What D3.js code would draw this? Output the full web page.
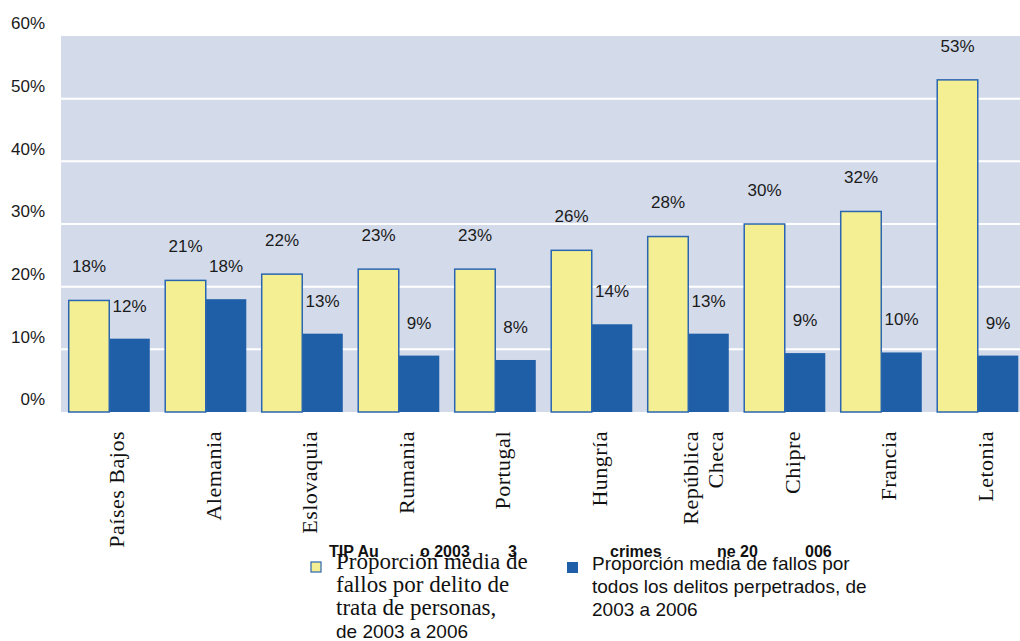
<!DOCTYPE html>
<html><head><meta charset="utf-8">
<script src="https://cdn.jsdelivr.net/npm/d3@7"></script>
<style>
html,body{margin:0;padding:0;background:#fff;overflow:hidden;}
svg{display:block;}
</style></head>
<body>
<svg id="chart" width="1020" height="641"></svg>
<script>
const categories = ["Países Bajos","Alemania","Eslovaquia","Rumania","Portugal","Hungría","República Checa","Chipre","Francia","Letonia"];
const categoryLines = [["Países Bajos"],["Alemania"],["Eslovaquia"],["Rumania"],["Portugal"],["Hungría"],["República","Checa"],["Chipre"],["Francia"],["Letonia"]];
const traficoValues = [17.8, 21.0, 22.0, 22.8, 22.8, 25.8, 28.0, 30.0, 32.0, 53.0];
const todosValues = [11.7, 18.0, 12.5, 9.0, 8.3, 14.0, 12.5, 9.4, 9.5, 9.0];
const yTicks = [0, 10, 20, 30, 40, 50, 60];
const legend1Lines = ["Proporción media de","fallos por delito de","trata de personas,","de 2003 a 2006"];
const legend2Lines = ["Proporción media de fallos por","todos los delitos perpetrados, de","2003 a 2006"];
const underlayFragments = [["TIP Au",329],["o 2003",420],["3",508],["crimes",610],["ne 20",717],["006",805]];

const svg = d3.select("#chart");
const pLeft = 61, pTop = 36, pBottom = 412, pRight = 1020;

const x = d3.scaleBand().domain(categories).range([61, 1026]).paddingInner(0.16).paddingOuter(0.08);
const xs = d3.scaleBand().domain(["a","b"]).range([0, x.bandwidth()]);
const y = d3.scaleLinear().domain([0, 60]).range([pBottom, pTop]);

svg.append("rect").attr("x", pLeft).attr("y", pTop).attr("width", pRight - pLeft).attr("height", pBottom - pTop).attr("fill", "#d3dbeb");

svg.append("g").selectAll("line").data(yTicks.filter(d => d > 0 && d < 60)).join("line")
  .attr("x1", pLeft).attr("x2", pRight).attr("y1", d => y(d)).attr("y2", d => y(d))
  .attr("stroke", "#ffffff").attr("stroke-width", 2);

const yAxis = d3.axisLeft(y).tickValues(yTicks).tickFormat(d => d + "%").tickSize(0).tickPadding(0);
const yg = svg.append("g").attr("transform", "translate(45,0)").call(yAxis);
yg.select(".domain").remove();
yg.selectAll("text").attr("font-family", "Liberation Sans, Arial, sans-serif").attr("font-size", 17).attr("fill", "#1a1a1a").attr("dy", "-0.42em");

const g = svg.append("g");
categories.forEach((c, i) => {
  const x0 = x(c);
  g.append("rect").attr("x", x0 + xs("b")).attr("y", y(todosValues[i])).attr("width", xs.bandwidth()).attr("height", pBottom - y(todosValues[i]))
    .attr("fill", "#1f5fa8");
  g.append("rect").attr("x", x0 + xs("a")).attr("y", y(traficoValues[i])).attr("width", xs.bandwidth()).attr("height", pBottom - y(traficoValues[i]))
    .attr("fill", "#f5ef93").attr("stroke", "#2a66b0").attr("stroke-width", 1.5);
  g.append("text").attr("x", x0 + xs("a") + xs.bandwidth()/2).attr("y", y(traficoValues[i]) - 34).attr("dy", "0.35em")
    .attr("text-anchor", "middle").attr("font-family", "Liberation Sans, Arial, sans-serif").attr("font-size", 17).attr("fill", "#1a1a1a")
    .text(Math.round(traficoValues[i]) + "%");
  g.append("text").attr("x", x0 + xs("b") + xs.bandwidth()/2).attr("y", y(todosValues[i]) - 33).attr("dy", "0.35em")
    .attr("text-anchor", "middle").attr("font-family", "Liberation Sans, Arial, sans-serif").attr("font-size", 17).attr("fill", "#1a1a1a")
    .text(Math.round(todosValues[i]) + "%");
});

categories.forEach((c, i) => {
  const cx = x(c) + x.bandwidth()/2;
  const lines = categoryLines[i];
  const n = lines.length;
  lines.forEach((ln, j) => {
    const bx = n === 1 ? cx + 15 : cx + 10 + j * 25;
    svg.append("text").attr("transform", `translate(${bx},431) rotate(-90)`)
      .attr("text-anchor", "end").attr("font-family", "Liberation Serif, Times New Roman, serif").attr("font-size", 22)
      .attr("letter-spacing", 0.5).attr("fill", "#111").text(ln);
  });
});

svg.append("g").selectAll("text").data(underlayFragments).join("text")
  .attr("x", d => d[1]).attr("y", 557).attr("font-family", "Liberation Sans, Arial, sans-serif").attr("font-weight", "bold")
  .attr("font-size", 16).attr("fill", "#111").text(d => d[0]);

svg.append("rect").attr("x", 311).attr("y", 562).attr("width", 10).attr("height", 10).attr("fill", "#f5ef93").attr("stroke", "#2a66b0").attr("stroke-width", 1.2);
legend1Lines.forEach((t, j) => {
  svg.append("text").attr("x", 336).attr("y", 569 + j * 23)
    .attr("font-family", j === 3 ? "Liberation Sans, Arial, sans-serif" : "Liberation Serif, Times New Roman, serif")
    .attr("font-size", j === 3 ? 19 : 23).attr("fill", "#111").text(t);
});
svg.append("rect").attr("x", 567).attr("y", 562).attr("width", 11).attr("height", 11).attr("fill", "#1f5fa8");
legend2Lines.forEach((t, j) => {
  svg.append("text").attr("x", 592).attr("y", 570 + j * 23)
    .attr("font-family", "Liberation Sans, Arial, sans-serif").attr("font-size", 19).attr("fill", "#111").text(t);
});
</script>
</body></html>
